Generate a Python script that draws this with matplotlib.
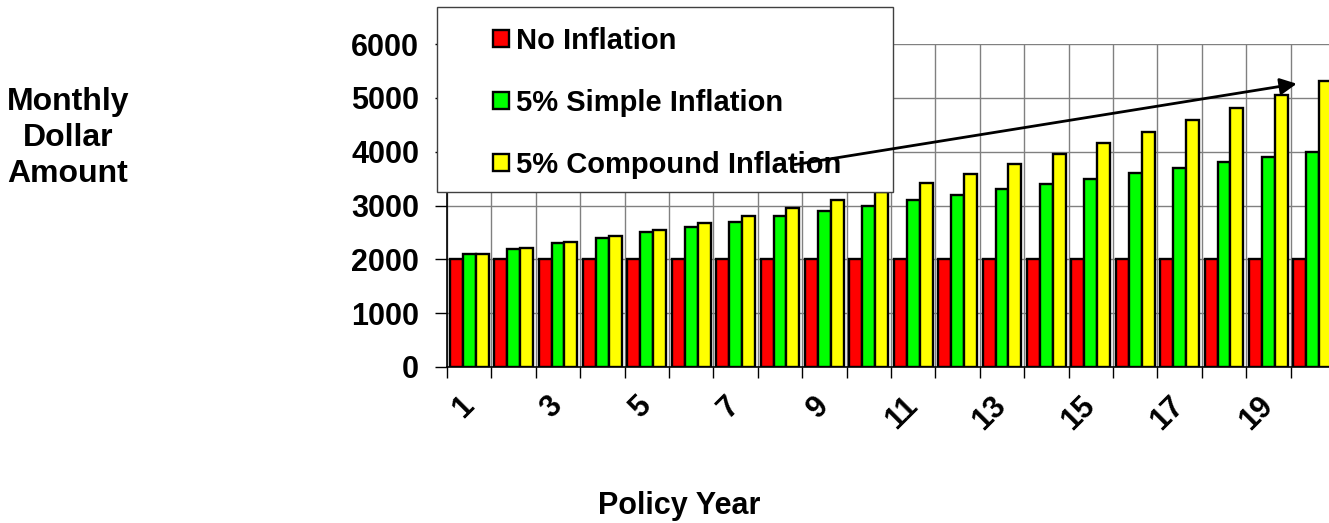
import numpy as np
import matplotlib.pyplot as plt
from matplotlib.patches import Rectangle

plt.rcParams['font.family'] = ['Liberation Sans', 'DejaVu Sans']
plt.rcParams['font.weight'] = 'bold'

# data
years = list(range(1, 21))
no_inflation = [2000] * 20
simple_inflation = [2100, 2200, 2300, 2400, 2500, 2600, 2700, 2800, 2900, 3000,
                    3100, 3200, 3300, 3400, 3500, 3600, 3700, 3800, 3900, 4000]
compound_inflation = [2100, 2205, 2315, 2431, 2553, 2680, 2814, 2955, 3103, 3258,
                      3421, 3592, 3771, 3960, 4158, 4366, 4584, 4813, 5054, 5307]
labels = ['No Inflation', '5% Simple Inflation', '5% Compound Inflation']
colors = ['#ff0000', '#00ff00', '#ffff00']

W, H = 1329, 523
fig = plt.figure(figsize=(W / 100, H / 100), dpi=100)
ax = fig.add_axes([447 / W, 1 - 367 / H, 888 / W, 323 / H])

x = np.arange(len(years))
bw = 0.29
series = [no_inflation, simple_inflation, compound_inflation]
for i, (vals, c, lab) in enumerate(zip(series, colors, labels)):
    ax.bar(x + (i - 1) * bw, vals, bw, color=c, edgecolor='black',
           linewidth=1.7, label=lab, zorder=3)

ax.set_xlim(-0.5, len(years) - 0.5)
ax.set_ylim(0, 6000)
ax.set_yticks(range(0, 6001, 1000))
ax.tick_params(axis='y', labelsize=22, length=9, width=1, pad=11)

# category labels on odd years, boundaries as minor ticks
ax.set_xticks(x[::2])
ax.set_xticklabels([str(y) for y in years[::2]], rotation=45, fontsize=22,
                   ha='right', va='center', rotation_mode='anchor')
ax.set_xticks(np.arange(-0.5, len(years), 1), minor=True)
ax.tick_params(axis='x', which='major', length=0, pad=25)
ax.tick_params(axis='x', which='minor', length=8, width=1)

ax.grid(axis='y', color='#808080', linewidth=1, zorder=0)
ax.grid(axis='x', which='minor', color='#808080', linewidth=1, zorder=0)
for s in ['top', 'right']:
    ax.spines[s].set_visible(False)
ax.spines['left'].set_linewidth(1.2)
ax.spines['bottom'].set_linewidth(1.2)

# legend box
box = Rectangle((437 / W, 1 - 192 / H), 456 / W, 185 / H, transform=fig.transFigure,
                facecolor='white', edgecolor='#404040', linewidth=1,
                clip_on=False, zorder=10)
ax.add_patch(box)
leg = ax.legend(loc='upper left', bbox_to_anchor=(493 / W, 1 - 27 / H),
                bbox_transform=fig.transFigure, frameon=False, fontsize=21,
                handlelength=0.55, handleheight=0.55, handletextpad=0.25,
                labelspacing=1.16, borderpad=0, borderaxespad=0)
leg.set_zorder(11)

ax.annotate('', xy=(18.7, 5270), xytext=(7.27, 3752),
            arrowprops=dict(arrowstyle='-|>', color='black', lw=2,
                            mutation_scale=25), zorder=12, annotation_clip=False)

fig.text(68 / W, 1 - 138 / H, 'Monthly\nDollar\nAmount', ha='center', va='center',
         fontsize=23, multialignment='center', linespacing=1.27)
fig.text(679 / W, 1 - 506 / H, 'Policy Year', ha='center', va='center', fontsize=22)

plt.savefig('out.png', dpi=100)
